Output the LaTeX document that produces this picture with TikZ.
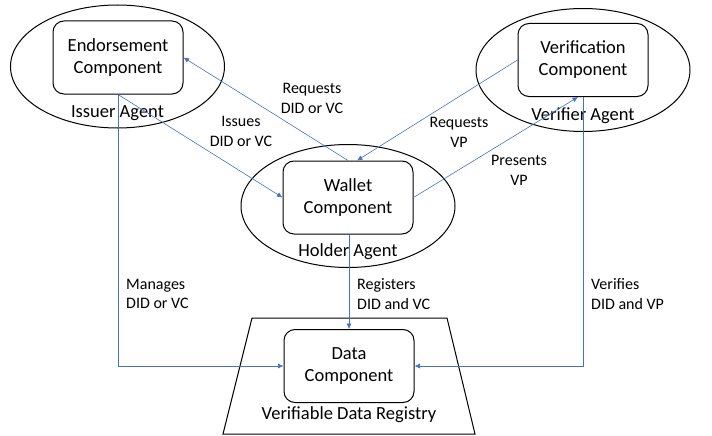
\documentclass[tikz,border=0pt]{standalone}
\usepackage{fontspec}
\setmainfont{Carlito}
\usetikzlibrary{shapes.geometric,arrows.meta}
\definecolor{arrowblue}{HTML}{4472C4}
\tikzset{
  comp/.style={draw=black, line width=1pt, rounded corners=11pt, minimum width=130pt, minimum height=73pt, align=center, inner sep=0pt, font=\fontsize{18.5}{22}\selectfont},
  agent/.style={draw=black, line width=1pt, ellipse, minimum width=214pt, minimum height=123pt, inner sep=0pt},
  agentlabel/.style={inner sep=0pt, font=\fontsize{18.5}{22}\selectfont},
  flow/.style={draw=arrowblue, line width=0.6pt, -{Latex[length=5.5pt,width=5pt]}},
  lbl/.style={inner sep=0pt, align=center, font=\fontsize{16}{19.5}\selectfont},
  lbll/.style={inner sep=0pt, align=left, anchor=west, font=\fontsize{16}{19.5}\selectfont}
}
\begin{document}
\begin{tikzpicture}[x=1pt,y=-1pt]
\useasboundingbox (0,0) rectangle (712,436);
% agents
\node[agent] (issuer) at (117.5,66.5) {};
\node[agent] (holder) at (348,206) {};
\node[agent] (verifier) at (583,70) {};
% registry trapezoid
\coordinate (tl) at (252,318);
\coordinate (tr) at (447,318);
\coordinate (br) at (475,434);
\coordinate (bl) at (223,434);
\draw[line width=1pt] (tl) -- (tr) -- (br) -- (bl) -- cycle;
% components
\node[comp] (endo) at (118,57.5) {Endorsement\\Component};
\node[comp] (wallet) at (348,197.5) {Wallet\\Component};
\node[comp] (verif) at (583,60) {Verification\\Component};
\node[comp] (data) at (349,366) {Data\\Component};
% agent labels
\node[agentlabel] (issuerlbl) at (117.5,113) {Issuer Agent};
\node[agentlabel] (holderlbl) at (348,252) {Holder Agent};
\node[agentlabel] (verifierlbl) at (583,116) {Verifier Agent};
\node[agentlabel] (registrylbl) at (349,415) {Verifiable Data Registry};
% connectors
\draw[flow] (wallet.north) -- (endo.east);
\draw[flow] (endo.south) -- (wallet.west);
\draw[flow] (verif.west) -- ([xshift=9pt]wallet.north);
\draw[flow] (wallet.east) -- ([xshift=-5pt]verif.south);
\draw[flow] (endo.south) |- (data.west);
\draw[flow] (wallet.south -| data.north) -- (data.north);
\draw[flow] (verif.south) |- (data.east);
% labels
\node[lbl] (l1) at (312,98.5) {Requests\\DID or VC};
\node[lbl] (l2) at (241,131.5) {Issues\\DID or VC};
\node[lbl] (l3) at (459,132.5) {Requests\\VP};
\node[lbl] (l4) at (519,170.5) {Presents\\VP};
\node[lbll] (l5) at (126,294) {Manages\\DID or VC};
\node[lbll] (l6) at (357,294) {Registers\\DID and VC};
\node[lbll] (l7) at (591,294) {Verifies\\DID and VP};
\end{tikzpicture}
\end{document}
